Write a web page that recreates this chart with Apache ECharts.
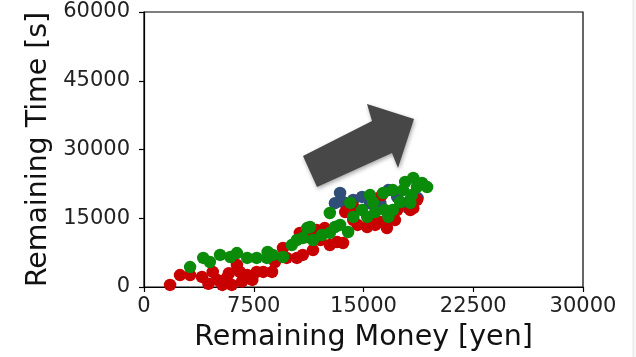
<!DOCTYPE html>
<html>
<head>
<meta charset="utf-8">
<script src="https://cdn.jsdelivr.net/npm/echarts@6/dist/echarts.min.js"></script>
<style>
  html, body { margin: 0; padding: 0; background: #ffffff; }
  #chart { width: 636px; height: 357px; }
</style>
</head>
<body>
<div id="chart"></div>
<script>
// Remaining money [yen] vs remaining time [s], three groups of runs
const xTicks = [0, 7500, 15000, 22500, 30000];
const yTicks = [0, 15000, 30000, 45000, 60000];

const blueRuns = [
  [13400, 20500], [13050, 18300], [13600, 18550], [14300, 19000], [14900, 19650],
  [15600, 19000], [16150, 18300], [16700, 21150], [17300, 19650], [18200, 19000],
  [18700, 19400], [18050, 17250], [15450, 18300]
];

const redRuns = [
  [1780, 450], [2460, 2600], [3150, 2600], [3960, 2200], [4700, 3300],
  [5000, 1550], [5650, 1950], [5350, 450], [6000, 450], [6350, 4800],
  [6550, 3300], [7050, 2600], [7400, 1550], [7700, 3300], [8150, 3300],
  [8750, 3300], [8950, 5450], [9500, 8500], [9750, 6350], [10450, 6350],
  [10850, 7000], [10650, 11800], [11150, 10900], [11800, 12450], [12350, 12850],
  [13200, 9800], [13600, 9600], [12700, 9150], [11550, 8050], [12050, 10250],
  [13750, 16350], [14300, 14600], [14600, 13550], [15250, 13100], [15800, 13550],
  [16600, 12850], [17150, 14600], [16150, 14200], [18200, 16800], [18650, 19000],
  [16250, 20050], [14300, 17500], [17300, 16800], [18400, 17200], [15650, 15300],
  [4400, 700], [6700, 1200], [5800, 3000]
];

const greenRuns = [
  [3150, 4350], [4050, 6350], [4500, 5450], [5200, 7000], [5900, 6550],
  [6350, 7400], [7050, 6350], [7700, 6350], [8400, 6350], [8450, 7650],
  [8800, 7000], [9500, 6550], [10100, 9150], [10450, 10250], [10850, 10700],
  [11150, 12850], [11350, 13100], [11550, 10250], [12150, 11350], [12700, 11800],
  [13050, 13100], [13400, 13550], [13950, 12000], [12700, 16150], [14100, 18350],
  [14300, 15300], [14900, 16800], [15250, 15300], [15450, 20050], [15800, 16350],
  [16450, 16800], [16700, 15300], [17000, 16800], [17500, 18550], [18200, 18350],
  [18300, 20050], [17700, 21150], [17850, 22900], [18400, 23800], [19000, 22700],
  [19350, 21800], [18650, 21800], [17000, 21150], [16350, 20500], [15650, 18500]
];

const FONT = 'DejaVu Sans';
const chart = echarts.init(document.getElementById('chart'), null, { renderer: 'canvas' });

function scatter(name, data, color) {
  return {
    name: name,
    type: 'scatter',
    data: data,
    symbol: 'circle',
    symbolSize: 12.5,
    itemStyle: { color: color, opacity: 1 },
    emphasis: { disabled: true },
    z: 3
  };
}

chart.setOption({
  animation: false,
  backgroundColor: '#ffffff',
  grid: {
    left: 144, right: 53, top: 12, bottom: 70,
    outerBoundsMode: 'none',
    containLabel: false,
    show: true, borderColor: '#000000', borderWidth: 1.2, backgroundColor: 'transparent'
  },
  xAxis: {
    type: 'value',
    min: xTicks[0], max: xTicks[xTicks.length - 1], interval: 7500,
    name: 'Remaining Money [yen]',
    nameLocation: 'middle', nameGap: 36,
    nameTextStyle: { fontFamily: FONT, fontSize: 28.5, color: '#111' },
    axisLine: { show: true, lineStyle: { color: '#000', width: 1.2 } },
    axisTick: { show: true, inside: false, length: 5, lineStyle: { color: '#000', width: 1.2 } },
    axisLabel: { fontFamily: FONT, fontSize: 21, color: '#222', margin: 9,
      formatter: v => String(v) },
    splitLine: { show: false }
  },
  yAxis: {
    type: 'value',
    min: yTicks[0], max: yTicks[yTicks.length - 1], interval: 15000,
    name: 'Remaining Time [s]',
    nameLocation: 'middle', nameGap: 90,
    nameTextStyle: { fontFamily: FONT, fontSize: 28.4, color: '#111' },
    axisLine: { show: true, lineStyle: { color: '#000', width: 1.2 } },
    axisTick: { show: true, inside: false, length: 5, lineStyle: { color: '#000', width: 1.2 } },
    axisLabel: { fontFamily: FONT, fontSize: 21, color: '#222', margin: 14,
      formatter: v => String(v) },
    splitLine: { show: false }
  },
  series: [
    scatter('blue', blueRuns, '#2f4e78'),
    scatter('red', redRuns, '#c80000'),
    scatter('green', greenRuns, '#0a8c0a')
  ],
  graphic: [
    // faint page edge on the right
    { type: 'rect', shape: { x: 633, y: 0, width: 3, height: 357 },
      style: { fill: '#f6f6f6' }, z: 0, silent: true },
    { type: 'line', shape: { x1: 633, y1: 0, x2: 633, y2: 357 },
      style: { stroke: '#e4e4e4', lineWidth: 1 }, z: 0, silent: true },
    // trend arrow
    {
      type: 'polygon',
      z: 10,
      silent: true,
      shape: {
        points: [
          [317, 187], [303, 156], [372, 121], [367, 104],
          [414, 119], [398, 168], [392, 153]
        ]
      },
      style: {
        fill: '#474747',
        shadowBlur: 4, shadowColor: 'rgba(0,0,0,0.35)', shadowOffsetX: 1, shadowOffsetY: 2
      }
    }
  ]
});
</script>
</body>
</html>
